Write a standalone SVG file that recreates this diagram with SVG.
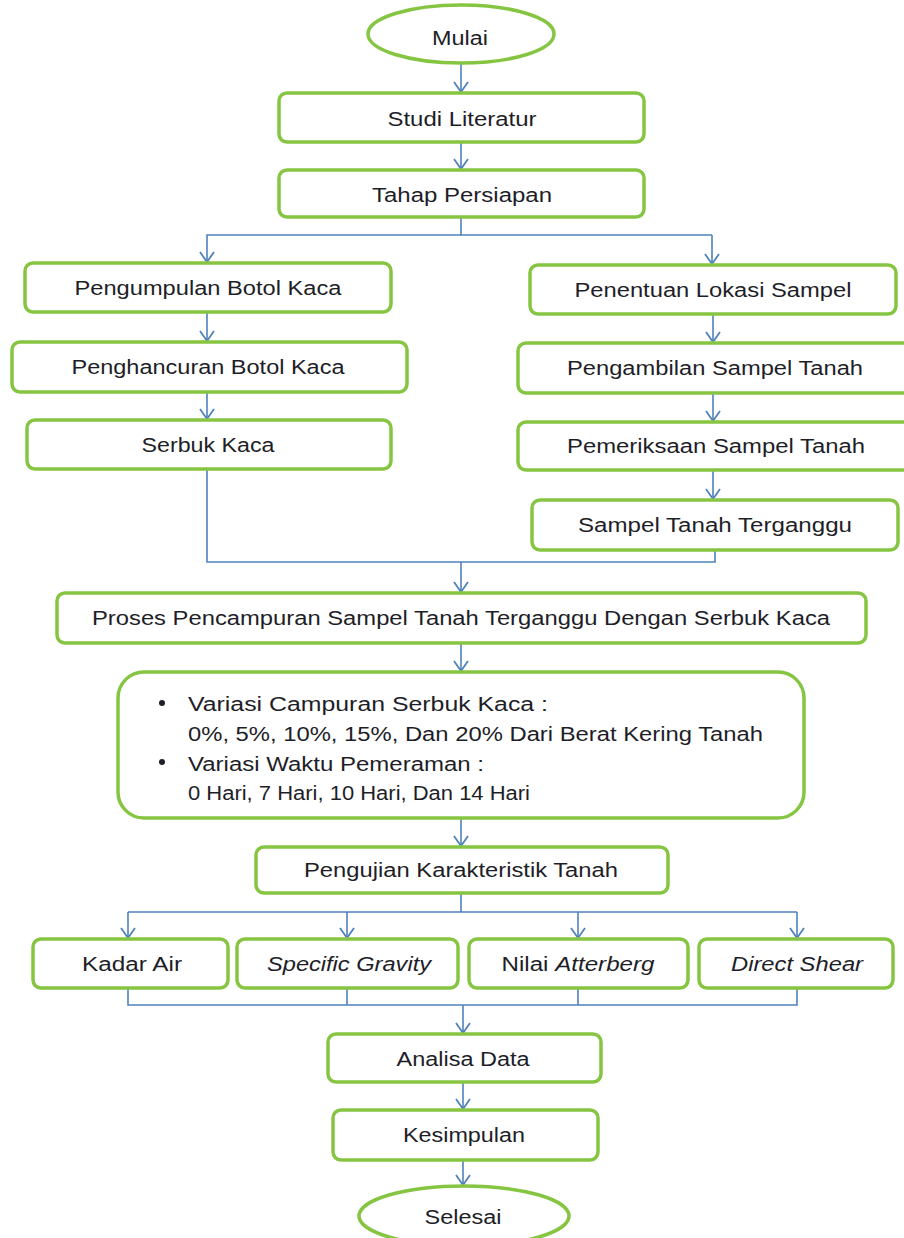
<svg xmlns="http://www.w3.org/2000/svg" width="904" height="1238" viewBox="0 0 904 1238">
<style>
.n{fill:#fff;stroke:#86c542;stroke-width:3.5}
.t{font-family:"Liberation Sans",Arial,sans-serif;font-size:19.5px;fill:#1e1e28;text-anchor:middle}
.l{font-family:"Liberation Sans",Arial,sans-serif;font-size:19.5px;fill:#1e1e28}
.c{fill:none;stroke:#4f81bd;stroke-width:1.6}
.a{marker-end:url(#arr)}
</style>
<defs>
<marker id="arr" markerUnits="userSpaceOnUse" markerWidth="16" markerHeight="18" refX="11" refY="8" orient="auto">
<path d="M1,1 L11,8 L1,15" fill="none" stroke="#4f81bd" stroke-width="1.8"/>
</marker>
</defs>
<rect width="904" height="1238" fill="#fff"/>
<g id="connectors">
<path class="c a" d="M461,64 V92"/>
<path class="c a" d="M461,143 V169"/>
<path class="c" d="M461,218 V235 H712"/>
<path class="c a" d="M461,235 H207 V262"/>
<path class="c a" d="M712,235 V264"/>
<path class="c a" d="M207,313 V341"/>
<path class="c a" d="M207,393 V419"/>
<path class="c a" d="M713,315 V342"/>
<path class="c a" d="M713,394 V421"/>
<path class="c a" d="M713,471 V499"/>
<path class="c" d="M207,470 V562 H715 V550"/>
<path class="c a" d="M461,562 V592"/>
<path class="c a" d="M461,644 V671"/>
<path class="c a" d="M461,819 V846"/>
<path class="c" d="M461,894 V912"/>
<path class="c" d="M128,912 H797"/>
<path class="c a" d="M128,912 V938"/>
<path class="c a" d="M347,912 V938"/>
<path class="c a" d="M578,912 V938"/>
<path class="c a" d="M797,912 V938"/>
<path class="c" d="M128,989 V1005 H797 V989 M347,989 V1005 M578,989 V1005"/>
<path class="c a" d="M463,1005 V1033"/>
<path class="c a" d="M463,1083 V1109"/>
<path class="c a" d="M463,1161 V1185"/>
</g>
<g id="mulai">
<ellipse class="n" cx="461" cy="34" rx="93" ry="29"/>
<text class="t" x="460" y="45" textLength="56" lengthAdjust="spacingAndGlyphs">Mulai</text>
</g>
<g id="studi">
<rect class="n" x="279" y="93" width="365" height="49" rx="8"/>
<text class="t" x="462" y="126" textLength="149" lengthAdjust="spacingAndGlyphs">Studi Literatur</text>
</g>
<g id="tahap">
<rect class="n" x="279" y="170" width="365" height="47" rx="8"/>
<text class="t" x="462" y="202" textLength="180" lengthAdjust="spacingAndGlyphs">Tahap Persiapan</text>
</g>
<g id="pengumpulan">
<rect class="n" x="25" y="263" width="366" height="49" rx="8"/>
<text class="t" x="208" y="295" textLength="267" lengthAdjust="spacingAndGlyphs">Pengumpulan Botol Kaca</text>
</g>
<g id="penghancuran">
<rect class="n" x="12" y="342" width="395" height="50" rx="8"/>
<text class="t" x="208" y="374" textLength="273" lengthAdjust="spacingAndGlyphs">Penghancuran Botol Kaca</text>
</g>
<g id="serbuk">
<rect class="n" x="27" y="420" width="364" height="49" rx="8"/>
<text class="t" x="208" y="452" textLength="133" lengthAdjust="spacingAndGlyphs">Serbuk Kaca</text>
</g>
<g id="penentuan">
<rect class="n" x="530" y="265" width="366" height="49" rx="8"/>
<text class="t" x="713" y="297" textLength="277" lengthAdjust="spacingAndGlyphs">Penentuan Lokasi Sampel</text>
</g>
<g id="pengambilan">
<rect class="n" x="518" y="343" width="400" height="50" rx="8"/>
<text class="t" x="715" y="375" textLength="296" lengthAdjust="spacingAndGlyphs">Pengambilan Sampel Tanah</text>
</g>
<g id="pemeriksaan">
<rect class="n" x="518" y="422" width="400" height="48" rx="8"/>
<text class="t" x="716" y="453" textLength="298" lengthAdjust="spacingAndGlyphs">Pemeriksaan Sampel Tanah</text>
</g>
<g id="sampel">
<rect class="n" x="532" y="500" width="366" height="50" rx="8"/>
<text class="t" x="715" y="532" textLength="274" lengthAdjust="spacingAndGlyphs">Sampel Tanah Terganggu</text>
</g>
<g id="proses">
<rect class="n" x="57" y="593" width="809" height="50" rx="8"/>
<text class="t" x="461" y="625" textLength="738" lengthAdjust="spacingAndGlyphs">Proses Pencampuran Sampel Tanah Terganggu Dengan Serbuk Kaca</text>
</g>
<g id="variasi">
<rect class="n" x="118" y="672" width="686" height="146" rx="26"/>
<circle cx="162" cy="703" r="3" fill="#1e1e28"/>
<circle cx="162" cy="762" r="3" fill="#1e1e28"/>
<text class="l" x="188" y="711" textLength="360" lengthAdjust="spacingAndGlyphs">Variasi Campuran Serbuk Kaca :</text>
<text class="l" x="188" y="741" textLength="575" lengthAdjust="spacingAndGlyphs">0%, 5%, 10%, 15%, Dan 20% Dari Berat Kering Tanah</text>
<text class="l" x="188" y="771" textLength="296" lengthAdjust="spacingAndGlyphs">Variasi Waktu Pemeraman :</text>
<text class="l" x="188" y="800" textLength="342" lengthAdjust="spacingAndGlyphs">0 Hari, 7 Hari, 10 Hari, Dan 14 Hari</text>
</g>
<g id="pengujian">
<rect class="n" x="256" y="847" width="412" height="46" rx="8"/>
<text class="t" x="461" y="877" textLength="314" lengthAdjust="spacingAndGlyphs">Pengujian Karakteristik Tanah</text>
</g>
<g id="kadar">
<rect class="n" x="33" y="939" width="195" height="49" rx="8"/>
<text class="t" x="132" y="971" textLength="100" lengthAdjust="spacingAndGlyphs">Kadar Air</text>
</g>
<g id="specific">
<rect class="n" x="237" y="939" width="221" height="49" rx="8"/>
<text class="t" x="349" y="971" textLength="164" lengthAdjust="spacingAndGlyphs" font-style="italic">Specific Gravity</text>
</g>
<g id="atterberg">
<rect class="n" x="469" y="939" width="219" height="49" rx="8"/>
<text class="t" x="578" y="971" textLength="153" lengthAdjust="spacingAndGlyphs">Nilai <tspan font-style="italic">Atterberg</tspan></text>
</g>
<g id="direct">
<rect class="n" x="699" y="939" width="194" height="49" rx="8"/>
<text class="t" x="797" y="971" textLength="132" lengthAdjust="spacingAndGlyphs" font-style="italic">Direct Shear</text>
</g>
<g id="analisa">
<rect class="n" x="328" y="1034" width="273" height="48" rx="8"/>
<text class="t" x="463" y="1066" textLength="133" lengthAdjust="spacingAndGlyphs">Analisa Data</text>
</g>
<g id="kesimpulan">
<rect class="n" x="333" y="1110" width="265" height="50" rx="8"/>
<text class="t" x="464" y="1142" textLength="122" lengthAdjust="spacingAndGlyphs">Kesimpulan</text>
</g>
<g id="selesai">
<ellipse class="n" cx="464" cy="1216" rx="105" ry="30"/>
<text class="t" x="463" y="1224" textLength="77" lengthAdjust="spacingAndGlyphs">Selesai</text>
</g>
</svg>
